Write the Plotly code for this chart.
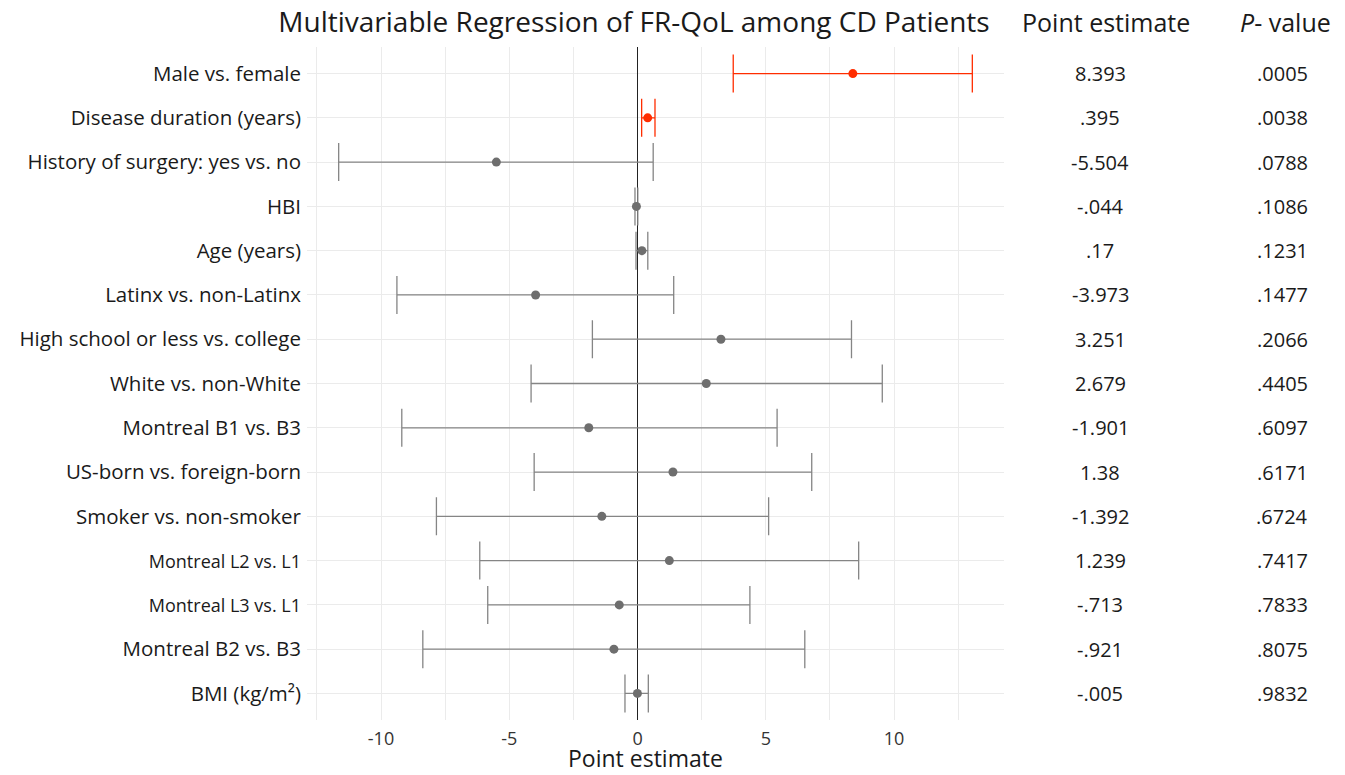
import plotly.graph_objects as go

# ---- data ----
labels = ["Male vs. female", "Disease duration (years)", "History of surgery: yes vs. no",
          "HBI", "Age (years)", "Latinx vs. non-Latinx", "High school or less vs. college",
          "White vs. non-White", "Montreal B1 vs. B3", "US-born vs. foreign-born",
          "Smoker vs. non-smoker", "Montreal L2 vs. L1", "Montreal L3 vs. L1",
          "Montreal B2 vs. B3", "BMI (kg/m²)"]
estimates = [8.393, 0.395, -5.504, -0.044, 0.17, -3.973, 3.251, 2.679, -1.901, 1.38,
             -1.392, 1.239, -0.713, -0.921, -0.005]
ci_low = [3.73, 0.16, -11.65, -0.10, -0.06, -9.38, -1.76, -4.15, -9.19, -4.03,
          -7.84, -6.15, -5.84, -8.37, -0.49]
ci_high = [13.05, 0.68, 0.61, 0.01, 0.40, 1.41, 8.34, 9.54, 5.44, 6.79,
           5.11, 8.62, 4.38, 6.52, 0.42]
est_text = ["8.393", ".395", "-5.504", "-.044", ".17", "-3.973", "3.251", "2.679",
            "-1.901", "1.38", "-1.392", "1.239", "-.713", "-.921", "-.005"]
p_text = [".0005", ".0038", ".0788", ".1086", ".1231", ".1477", ".2066", ".4405",
          ".6097", ".6171", ".6724", ".7417", ".7833", ".8075", ".9832"]
significant = [True, True] + [False] * 13
small_labels = {"Montreal L2 vs. L1", "Montreal L3 vs. L1"}
x_ticks = [-10, -5, 0, 5, 10]
x_minor = [-12.5, -7.5, -2.5, 2.5, 7.5, 12.5]

FONT = "Open Sans"
RED = "#ff2d00"
GRAY_LINE = "#858585"
GRAY_PT = "#6e6e6e"
TXT = "#1a1a1a"

W, H = 1345, 775
ML, MR, MT, MB = 307, 341, 47, 55

fig = go.Figure()
for sig, line_col, pt_col in [(False, GRAY_LINE, GRAY_PT), (True, RED, RED)]:
    idx = [i for i, s in enumerate(significant) if s == sig]
    fig.add_trace(go.Scatter(
        x=[estimates[i] for i in idx],
        y=[labels[i] for i in idx],
        mode="markers",
        marker=dict(color=pt_col, size=9),
        error_x=dict(type="data", symmetric=False,
                     array=[ci_high[i] - estimates[i] for i in idx],
                     arrayminus=[estimates[i] - ci_low[i] for i in idx],
                     color=line_col, thickness=1.3, width=19),
        showlegend=False, hoverinfo="skip"))

ticktext = [f'<span style="font-size:18px">{l}</span>' if l in small_labels else l for l in labels]

fig.update_layout(
    width=W, height=H,
    margin=dict(l=ML, r=MR, t=MT, b=MB),
    paper_bgcolor="white", plot_bgcolor="white",
    font=dict(family=FONT, color=TXT),
    title=dict(text="Multivariable Regression of FR-QoL among CD Patients",
               x=634 / W, xanchor="center", y=1 - 22 / H, yanchor="middle",
               font=dict(size=28, family=FONT, color=TXT)),
    xaxis=dict(range=[-12.885, 14.285], tickvals=x_ticks,
               ticktext=[str(v) for v in x_ticks],
               showgrid=True, gridcolor="#ebebeb", gridwidth=1,
               minor=dict(tickvals=x_minor, showgrid=True, gridcolor="#ebebeb", gridwidth=1),
               zeroline=True, zerolinecolor="#222222", zerolinewidth=1.2,
               showline=False, ticks="", ticklabelstandoff=6, automargin=False,
               tickfont=dict(size=18, color="#333333")),
    yaxis=dict(categoryorder="array", categoryarray=labels, range=[14.6, -0.6],
               tickvals=labels, ticktext=ticktext, automargin=False,
               showgrid=True, gridcolor="#ebebeb", gridwidth=1,
               zeroline=False, showline=False, ticks="",
               tickfont=dict(size=20.5, color=TXT), ticklabelstandoff=5),
)

# right-hand columns and axis title
px_w = W - ML - MR
px_h = H - MT - MB
def xpaper(px):
    return (px - ML) / px_w
def ypaper(py):
    return (H - MB - py) / px_h

fig.add_annotation(text="Point estimate", xref="paper", yref="paper", x=xpaper(645),
                   y=ypaper(776), xanchor="center", yanchor="bottom",
                   showarrow=False, font=dict(size=23, color=TXT))
fig.add_annotation(text="Point estimate", xref="paper", yref="paper", x=xpaper(1106),
                   y=ypaper(22), xanchor="center", yanchor="middle",
                   showarrow=False, font=dict(size=25, color=TXT))
fig.add_annotation(text="<i>P</i>- value", xref="paper", yref="paper", x=xpaper(1285),
                   y=ypaper(22), xanchor="center", yanchor="middle",
                   showarrow=False, font=dict(size=25, color=TXT))
for lab, e, p in zip(labels, est_text, p_text):
    fig.add_annotation(text=e, xref="paper", yref="y", x=xpaper(1100), y=lab,
                       xanchor="center", yanchor="middle", showarrow=False,
                       font=dict(size=20, color=TXT))
    fig.add_annotation(text=p, xref="paper", yref="y", x=xpaper(1282), y=lab,
                       xanchor="center", yanchor="middle", showarrow=False,
                       font=dict(size=20, color=TXT))

fig.write_html("out.html", config={"displayModeBar": False},
               post_script="document.body.style.margin='0px';")
